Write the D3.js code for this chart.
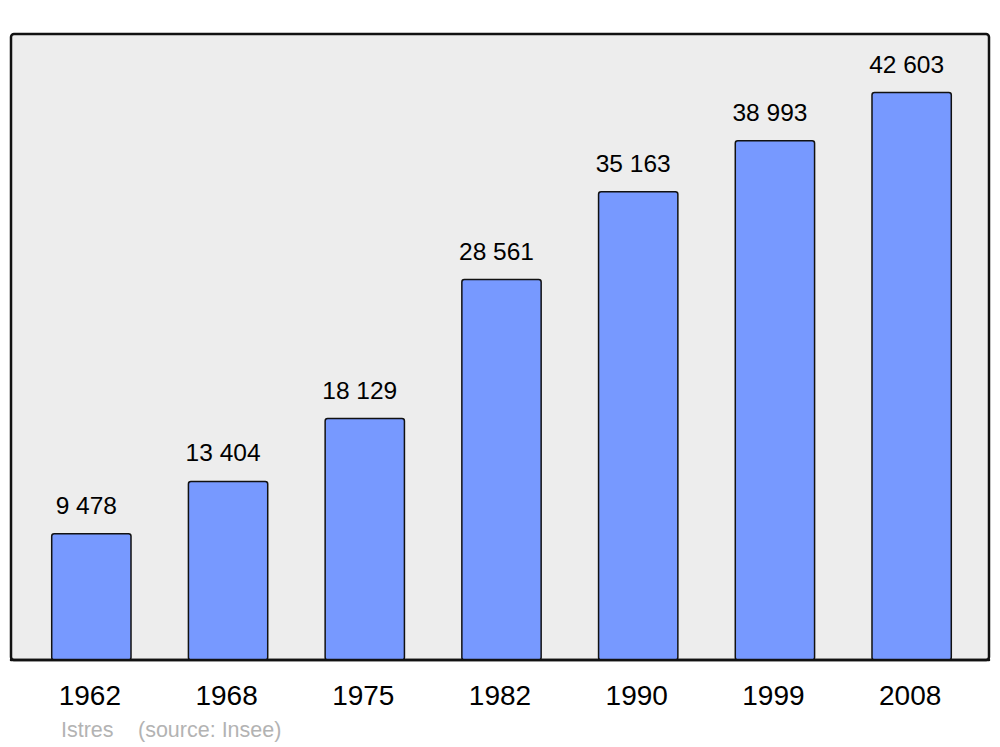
<!DOCTYPE html>
<html>
<head>
<meta charset="utf-8">
<script src="https://d3js.org/d3.v7.min.js"></script>
<style>
  body { margin: 0; background: #fff; }
  svg { display: block; font-family: "Liberation Sans", Arial, sans-serif; }
</style>
</head>
<body>
<div id="chart"></div>
<script>
// data
const years = ["1962", "1968", "1975", "1982", "1990", "1999", "2008"];
const population = [9478, 13404, 18129, 28561, 35163, 38993, 42603];
const valueLabels = ["9 478", "13 404", "18 129", "28 561", "35 163", "38 993", "42 603"];
const town = "Istres";
const source = "(source: Insee)";

const width = 1000, height = 747;
const panel = { left: 11, right: 989, top: 34, bottom: 660 };
const colors = { panel: "#ededed", bar: "#7799ff", text: "#000", note: "#b3b3b3" };

var svg = d3.select("#chart")
    .append("svg")
    .attr("width", width)
    .attr("height", height);

var xScale = d3.scaleBand()
    .domain(years)
    .range([23, 980])
    .paddingInner(0.42)
    .paddingOuter(0.21);

var yScale = d3.scaleLinear()
    .domain([0, 47000])
    .range([panel.bottom, panel.top]);

const data = years.map((y, i) => ({ year: y, value: population[i], label: valueLabels[i] }));

// background panel
svg.append("rect")
    .attr("x", panel.left)
    .attr("y", panel.top)
    .attr("width", panel.right - panel.left)
    .attr("height", panel.bottom - panel.top)
    .attr("rx", 3)
    .attr("fill", colors.panel)
    .attr("stroke", "#111")
    .attr("stroke-width", 2.5);

// bars
svg.selectAll(".bar")
    .data(data)
    .join("rect")
    .attr("class", "bar")
    .attr("x", d => xScale(d.year))
    .attr("y", d => yScale(d.value))
    .attr("width", xScale.bandwidth())
    .attr("height", d => yScale(0) - yScale(d.value))
    .attr("rx", 2.5)
    .attr("fill", colors.bar)
    .attr("stroke", "#111")
    .attr("stroke-width", 1.5);

// redraw bottom border over the bars
svg.append("line")
    .attr("x1", panel.left)
    .attr("x2", panel.right)
    .attr("y1", panel.bottom)
    .attr("y2", panel.bottom)
    .attr("stroke", "#111")
    .attr("stroke-width", 2.5)
    .attr("stroke-linecap", "round");

// value labels
svg.selectAll(".value")
    .data(data)
    .join("text")
    .attr("class", "value")
    .attr("x", d => xScale(d.year) + xScale.bandwidth() / 2 - 5)
    .attr("y", d => yScale(d.value) - 20)
    .attr("text-anchor", "middle")
    .attr("font-size", 24.5)
    .attr("fill", colors.text)
    .text(d => d.label);

// year labels
svg.selectAll(".year")
    .data(data)
    .join("text")
    .attr("class", "year")
    .attr("x", d => xScale(d.year) + xScale.bandwidth() / 2 - 1.5)
    .attr("y", 705)
    .attr("text-anchor", "middle")
    .attr("font-size", 28)
    .attr("fill", colors.text)
    .text(d => d.year);

// footer note
svg.append("text")
    .attr("x", 61)
    .attr("y", 737)
    .attr("font-size", 21.5)
    .attr("fill", colors.note)
    .text(town);

svg.append("text")
    .attr("x", 138)
    .attr("y", 737)
    .attr("font-size", 21.5)
    .attr("fill", colors.note)
    .text(source);
</script>
</body>
</html>
